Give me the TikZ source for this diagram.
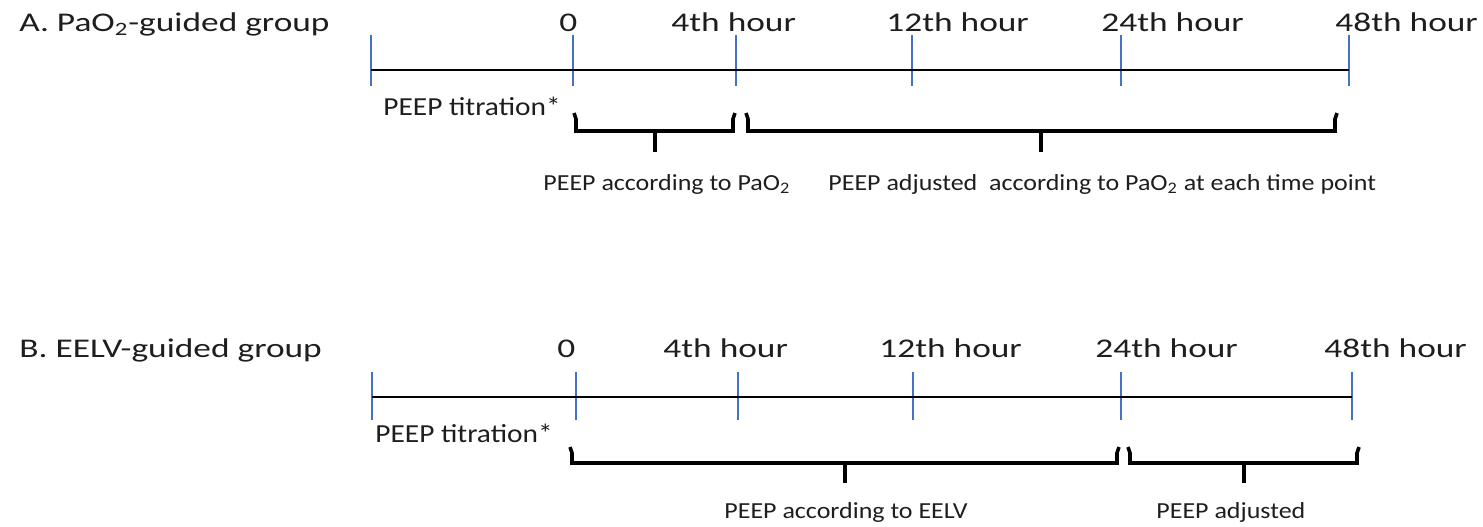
\documentclass[tikz,border=0pt]{standalone}
\usepackage{fontspec}
\setmainfont{Carlito}
\newfontfamily\bigf{Carlito}[FakeStretch=1.31]
\newfontfamily\smallf{Carlito}[FakeStretch=1.13]
\definecolor{tickblue}{RGB}{68,114,196}
\definecolor{txt}{RGB}{30,30,30}
\tikzset{
  biglab/.style={font=\bigf\fontsize{13.5pt}{16pt}\selectfont, text=txt, inner sep=0pt, anchor=base west},
  smalllab/.style={font=\smallf\fontsize{11.5pt}{14pt}\selectfont, text=txt, inner sep=0pt, anchor=base west},
  titlab/.style={font=\smallf\fontsize{13pt}{15pt}\selectfont, text=txt, inner sep=0pt, anchor=base west},
  tickline/.style={draw=tickblue, line width=0.9pt},
  axisline/.style={draw=black, line width=1.1pt},
  bracepath/.style={draw=black, line width=1.8pt, line join=miter},
}
\newcommand\mybrace[6]{%
  \draw[bracepath] (#1-2,#4) -- (#1,#4+6) -- (#1,#5) -- (#2,#5) -- (#2,#4+6) -- (#2+2,#4);
  \draw[bracepath] (#3,#5) -- (#3,#6);
}
\begin{document}
\begin{tikzpicture}[x=0.5pt,y=-0.5pt]
\useasboundingbox (0,0) rectangle (1483,526);

% ---------- A ----------
\node[biglab] (titleA) at (19,31) {A. PaO\textsubscript{2}-guided group};
\node[biglab] (a0l) at (559,31) {0};
\node[biglab] (a4l) at (671,31) {4th hour};
\node[biglab] (a12l) at (886,31) {12th hour};
\node[biglab] (a24l) at (1101,31) {24th hour};
\node[biglab] (a48l) at (1335,31) {48th hour};

\foreach \n/\x in {s/371,0/573,4/736,12/912,24/1121,48/1349}{
  \coordinate (ta\n) at (\x,70);
  \draw[tickline] (\x,35) -- (\x,86);
}
\draw[axisline] (tas) -- (ta48);

\node[titlab] (titA) at (383,115) {PEEP titration*};
\mybrace{576}{733}{655}{113}{131}{152}
\mybrace{748}{1335}{1041}{113}{131}{152}
\node[smalllab] (la1) at (543,190) {PEEP according to PaO\textsubscript{2}};
\node[smalllab] (la2) at (828,190) {PEEP adjusted\ \ according to PaO\textsubscript{2} at each time point};

% ---------- B ----------
\node[biglab] (titleB) at (19,357) {B. EELV-guided group};
\node[biglab] (b0l) at (557,357) {0};
\node[biglab] (b4l) at (663,357) {4th hour};
\node[biglab] (b12l) at (879,357) {12th hour};
\node[biglab] (b24l) at (1095,357) {24th hour};
\node[biglab] (b48l) at (1324,357) {48th hour};

\foreach \n/\x in {s/372,0/576,4/738,12/913,24/1121,48/1352}{
  \coordinate (tb\n) at (\x,397);
  \draw[tickline] (\x,372) -- (\x,420);
}
\draw[axisline] (tbs) -- (tb48);

\node[titlab] (titB) at (375,442) {PEEP titration*};
\mybrace{572}{1117}{845}{447}{463}{483}
\mybrace{1130}{1357}{1244}{447}{463}{483}
\node[smalllab] (lb1) at (724,518) {PEEP according to EELV};
\node[smalllab] (lb2) at (1156,518) {PEEP adjusted};
\end{tikzpicture}
\end{document}
